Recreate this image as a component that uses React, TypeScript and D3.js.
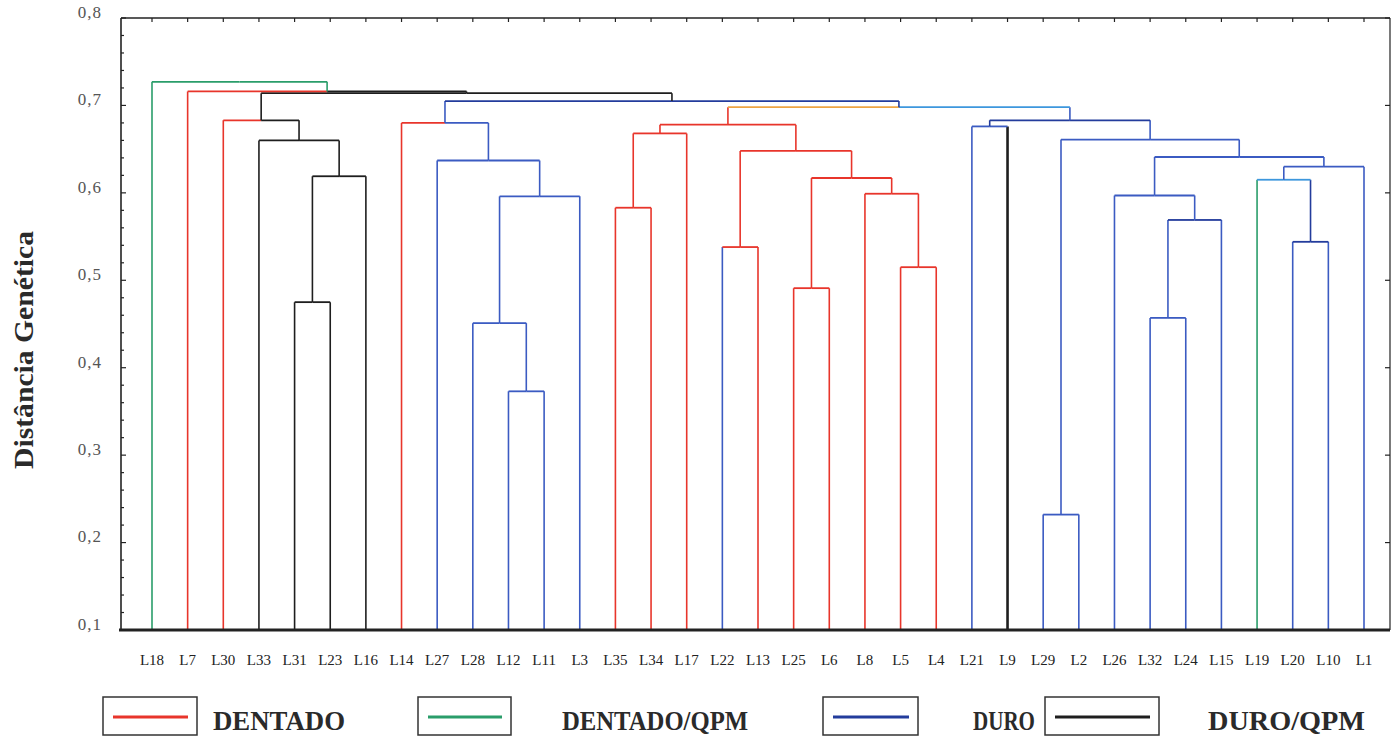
import React, { useEffect, useRef } from 'react';
import * as d3 from 'd3';

// Linhagens na ordem do eixo X
const leafLabels = [
  'L18', 'L7', 'L30', 'L33', 'L31', 'L23', 'L16', 'L14', 'L27', 'L28', 'L12', 'L11',
  'L3', 'L35', 'L34', 'L17', 'L22', 'L13', 'L25', 'L6', 'L8', 'L5', 'L4', 'L21',
  'L9', 'L29', 'L2', 'L26', 'L32', 'L24', 'L15', 'L19', 'L20', 'L10', 'L1',
];

// grupo de cada linhagem (índice em groupNames)
const leafGroups = [
  1, 0, 0, 3, 3, 3, 3, 0, 2, 2, 2, 2,
  2, 0, 0, 0, 2, 0, 0, 0, 0, 0, 0, 2,
  3, 2, 2, 2, 2, 2, 2, 1, 2, 2, 2,
];

const groupNames = ['DENTADO', 'DENTADO/QPM', 'DURO', 'DURO/QPM'];
const groupColors = ['#e8352b', '#2a9d6a', '#3b5bc2', '#1e1e1e'];

// fusões: [filho esquerdo, filho direito, distância] — ids 0..34 são folhas, 35.. são fusões
const merges: [number, number, number][] = [
  [4, 5, 0.475],   // 35
  [35, 6, 0.619],  // 36
  [3, 36, 0.66],   // 37
  [2, 37, 0.683],  // 38
  [10, 11, 0.373], // 39
  [9, 39, 0.451],  // 40
  [40, 12, 0.596], // 41
  [8, 41, 0.637],  // 42
  [7, 42, 0.68],   // 43
  [13, 14, 0.583], // 44
  [44, 15, 0.668], // 45
  [16, 17, 0.538], // 46
  [18, 19, 0.491], // 47
  [21, 22, 0.515], // 48
  [20, 48, 0.599], // 49
  [47, 49, 0.617], // 50
  [46, 50, 0.648], // 51
  [45, 51, 0.678], // 52
  [23, 24, 0.676], // 53
  [25, 26, 0.232], // 54
  [28, 29, 0.457], // 55
  [55, 30, 0.569], // 56
  [27, 56, 0.597], // 57
  [32, 33, 0.544], // 58
  [31, 58, 0.615], // 59
  [59, 34, 0.63],  // 60
  [57, 60, 0.641], // 61
  [54, 61, 0.661], // 62
  [53, 62, 0.683], // 63
  [52, 63, 0.698], // 64
  [43, 64, 0.705], // 65
  [38, 65, 0.714], // 66
  [1, 66, 0.716],  // 67
  [0, 67, 0.727],  // 68
];

const R = '#e8352b', B = '#3b5bc2', DB = '#233c9c', K = '#1e1e1e', G = '#2a9d6a', O = '#eea443', LB = '#3d97dd';

// cores de cada fusão: [meia barra esquerda, meia barra direita, haste até o pai]
const mergeColors: [string, string, string][] = [
  [K, K, K], [K, K, K], [K, K, K], [R, K, K],
  [B, B, B], [B, B, B], [B, B, B], [B, B, B], [R, B, B],
  [R, R, R], [R, R, R], [R, R, R], [R, R, R], [R, R, R], [R, R, R], [R, R, R], [R, R, R], [R, R, R],
  [B, B, DB], [B, B, B], [B, B, B], [DB, DB, B], [B, B, B], [DB, DB, DB], [LB, LB, B], [B, B, B],
  [B, B, B], [B, B, B], [DB, DB, B], [O, LB, DB], [DB, DB, K], [K, K, K], [R, K, G], [G, G, G],
];

const yTicks = [0.1, 0.2, 0.3, 0.4, 0.5, 0.6, 0.7, 0.8];

const Dendrograma = () => {
  const ref = useRef<SVGSVGElement>(null);

  useEffect(() => {
    const svg = d3.select(ref.current);
    svg.selectAll('*').remove();

    const left = 121, right = 1390, top = 18, bottom = 630;
    const serif = '"Liberation Serif", "Times New Roman", serif';

    const x = d3.scalePoint<string>().domain(leafLabels).range([152, 1364]);
    const y = d3.scaleLinear().domain([0.1, 0.8]).range([bottom, top]);

    // posições e alturas dos nós
    const nx: number[] = leafLabels.map(l => x(l) as number);
    const nh: number[] = leafLabels.map(() => 0.1);
    const stemColor: string[] = leafGroups.map(g => groupColors[g]);
    merges.forEach(([a, b, h], i) => {
      nx.push((nx[a] + nx[b]) / 2);
      nh.push(h);
      stemColor.push(mergeColors[i][2]);
    });

    const g = svg.append('g');
    merges.forEach(([a, b, h], i) => {
      const id = leafLabels.length + i;
      const [cl, cr] = mergeColors[i];
      [a, b].forEach(c => {
        g.append('line')
          .attr('x1', nx[c]).attr('x2', nx[c])
          .attr('y1', y(nh[c])).attr('y2', y(h))
          .attr('stroke', stemColor[c])
          .attr('stroke-width', leafLabels[c] === 'L9' ? 2.6 : 1.6);
      });
      g.append('line').attr('x1', nx[a]).attr('x2', nx[id])
        .attr('y1', y(h)).attr('y2', y(h)).attr('stroke', cl).attr('stroke-width', 1.8);
      g.append('line').attr('x1', nx[id]).attr('x2', nx[b])
        .attr('y1', y(h)).attr('y2', y(h)).attr('stroke', cr).attr('stroke-width', 1.8);
    });

    // moldura
    const frame = svg.append('g').attr('stroke', '#222');
    frame.append('line').attr('x1', left).attr('x2', right).attr('y1', top).attr('y2', top).attr('stroke-width', 1.4);
    frame.append('line').attr('x1', left).attr('x2', left).attr('y1', top).attr('y2', bottom).attr('stroke-width', 1.6);
    frame.append('line').attr('x1', right).attr('x2', right).attr('y1', top).attr('y2', bottom).attr('stroke-width', 1.2);
    frame.append('line').attr('x1', left - 2).attr('x2', right).attr('y1', bottom).attr('y2', bottom).attr('stroke-width', 3);

    // marcas
    d3.range(0.1, 0.8001, 0.02).forEach(v => {
      const major = Math.abs(v * 10 - Math.round(v * 10)) < 1e-6;
      frame.append('line').attr('x1', left).attr('x2', left + (major ? 5 : 3))
        .attr('y1', y(v)).attr('y2', y(v)).attr('stroke-width', 1.2);
    });
    yTicks.forEach(v => {
      frame.append('line').attr('x1', right).attr('x2', right - 5)
        .attr('y1', y(v)).attr('y2', y(v)).attr('stroke-width', 1.2);
    });
    leafLabels.forEach(l => {
      frame.append('line').attr('x1', x(l) as number).attr('x2', x(l) as number)
        .attr('y1', top).attr('y2', top + 4).attr('stroke-width', 1.2);
    });

    svg.append('g').selectAll('text').data(yTicks).enter().append('text')
      .attr('x', 102).attr('y', d => y(d) - 4)
      .attr('text-anchor', 'end').attr('dominant-baseline', 'middle')
      .attr('font-family', serif).attr('font-size', 17).attr('fill', '#555')
      .attr('letter-spacing', 1)
      .text(d => d3.format('.1f')(d).replace('.', ','));

    svg.append('g').selectAll('text').data(leafLabels).enter().append('text')
      .attr('x', d => x(d) as number).attr('y', 665)
      .attr('text-anchor', 'middle')
      .attr('font-family', serif).attr('font-size', 15).attr('fill', '#222')
      .text(d => d);

    svg.append('text')
      .attr('transform', 'translate(33,350) rotate(-90)')
      .attr('text-anchor', 'middle')
      .attr('font-family', serif).attr('font-size', 28).attr('font-weight', 'bold').attr('fill', '#2a2a2a')
      .attr('textLength', 238).attr('lengthAdjust', 'spacingAndGlyphs')
      .text('Distância Genética');

    // legenda
    const boxes = [[103, 94, 213, 132], [418, 93, 562, 186], [823, 95, 973, 62], [1045, 114, 1208, 157]];
    groupNames.forEach((name, i) => {
      const [bx, bw, tx, tw] = boxes[i];
      svg.append('rect').attr('x', bx).attr('y', 697).attr('width', bw).attr('height', 38)
        .attr('fill', 'none').attr('stroke', '#333').attr('stroke-width', 1.5);
      svg.append('line').attr('x1', bx + 10).attr('x2', bx + bw - 9)
        .attr('y1', 717).attr('y2', 717)
        .attr('stroke', i === 2 ? DB : groupColors[i]).attr('stroke-width', 3);
      svg.append('text').attr('x', tx).attr('y', 730)
        .attr('font-family', serif).attr('font-size', 28).attr('font-weight', 'bold').attr('fill', '#2a2a2a')
        .attr('textLength', tw).attr('lengthAdjust', 'spacingAndGlyphs')
        .text(name);
    });
  }, []);

  return (
    <svg ref={ref} width={1399} height={740}
      style={{ position: 'absolute', left: 0, top: 0, background: '#fff' }} />
  );
};

export default function App() {
  return <Dendrograma />;
}
